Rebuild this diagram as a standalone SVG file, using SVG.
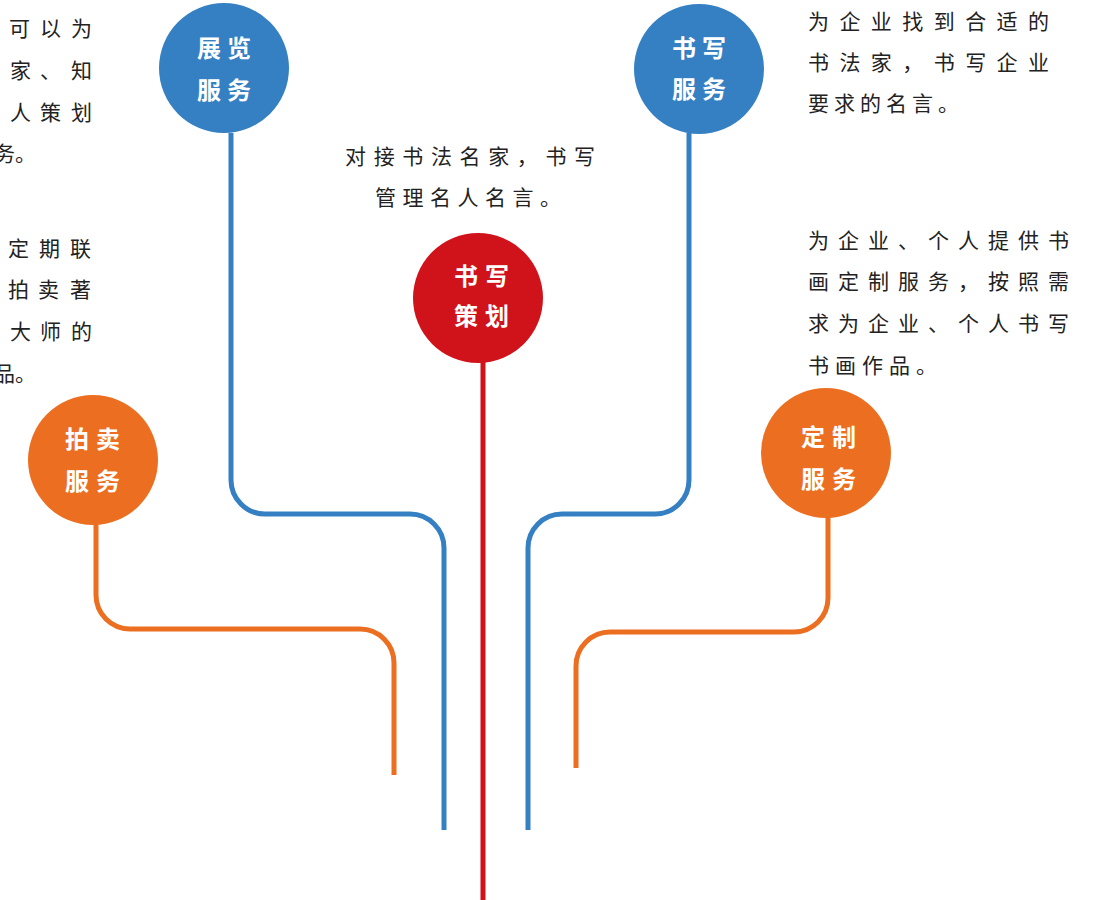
<svg xmlns="http://www.w3.org/2000/svg" width="1099" height="900" viewBox="0 0 1099 900">
<style>
.bg{fill:#ffffff}
.lb{fill:none;stroke:#3580c3;stroke-width:5}
.lr{fill:none;stroke:#d0121b;stroke-width:5}
.lo{fill:none;stroke:#ec6f21;stroke-width:5}
.cb{fill:#3580c3}
.cr{fill:#d0121b}
.co{fill:#ec6f21}
.nt{font-family:"Noto Sans CJK SC","Noto Sans",sans-serif;font-size:24px;font-weight:bold;fill:#ffffff}
.bt{font-family:"Noto Sans CJK SC","Noto Sans",sans-serif;font-size:21px;font-weight:normal;fill:#222222}
</style>
<rect class="bg" x="0" y="0" width="1099" height="900"/>
<g id="connectors">
<path class="lb" d="M231 133 V480 A34 34 0 0 0 265 514 H410 A34 34 0 0 1 444 548 V830"/>
<path class="lr" d="M483 362 V900"/>
<path class="lb" d="M689 133 V480 A34 34 0 0 1 655 514 H562 A34 34 0 0 0 528 548 V830"/>
<path class="lo" d="M96 524 V595 A34 34 0 0 0 130 629 H360 A34 34 0 0 1 394 663 V775"/>
<path class="lo" d="M828 517 V598 A34 34 0 0 1 794 632 H610 A34 34 0 0 0 576 666 V768"/>
</g>
<g id="node-zhanlan">
<circle class="cb" cx="224" cy="68" r="65"/>
<text class="nt" x="197 227" y="57">展览</text>
<text class="nt" x="197 227" y="99">服务</text>
</g>
<g id="node-shuxie-cehua">
<circle class="cr" cx="478" cy="298" r="65"/>
<text class="nt" x="454 485" y="285">书写</text>
<text class="nt" x="454 485" y="325">策划</text>
</g>
<g id="node-shuxie-fuwu">
<circle class="cb" cx="699" cy="69" r="65"/>
<text class="nt" x="672 702" y="57">书写</text>
<text class="nt" x="672 702" y="98">服务</text>
</g>
<g id="node-paimai">
<circle class="co" cx="93" cy="460" r="65"/>
<text class="nt" x="65 96" y="448">拍卖</text>
<text class="nt" x="65 96" y="490">服务</text>
</g>
<g id="node-dingzhi">
<circle class="co" cx="826" cy="453" r="65"/>
<text class="nt" x="801 832" y="446">定制</text>
<text class="nt" x="801 832" y="488">服务</text>
</g>
<g id="text-left-1">
<text class="bt" x="9 40 71" y="36">可以为</text>
<text class="bt" x="10 40 71" y="78">家、知</text>
<text class="bt" x="10 40 71" y="120">人策划</text>
<text class="bt" x="-6 15" y="161">务。</text>
</g>
<g id="text-left-2">
<text class="bt" x="8 39 70" y="256">定期联</text>
<text class="bt" x="8 38 70" y="297">拍卖著</text>
<text class="bt" x="10 40 71" y="339">大师的</text>
<text class="bt" x="-6 15" y="381">品。</text>
</g>
<g id="text-center">
<text class="bt" x="345" y="164" textLength="250" lengthAdjust="spacing">对接书法名家，书写</text>
<text class="bt" x="375" y="205" letter-spacing="6.5">管理名人名言。</text>
</g>
<g id="text-right-1">
<text class="bt" x="808" y="29" textLength="241" lengthAdjust="spacing">为企业找到合适的</text>
<text class="bt" x="808" y="70" textLength="241" lengthAdjust="spacing">书法家，书写企业</text>
<text class="bt" x="808" y="111" letter-spacing="5">要求的名言。</text>
</g>
<g id="text-right-2">
<text class="bt" x="808" y="248" textLength="261" lengthAdjust="spacing">为企业、个人提供书</text>
<text class="bt" x="808" y="289" textLength="261" lengthAdjust="spacing">画定制服务，按照需</text>
<text class="bt" x="808" y="331" textLength="261" lengthAdjust="spacing">求为企业、个人书写</text>
<text class="bt" x="808" y="373" letter-spacing="6">书画作品。</text>
</g>
</svg>
